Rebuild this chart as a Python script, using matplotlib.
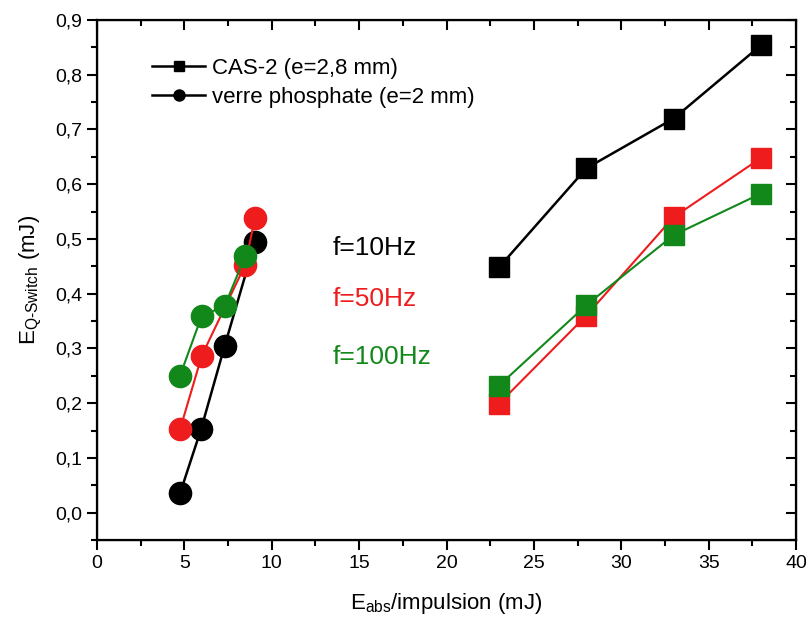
import matplotlib
matplotlib.use("Agg")
import matplotlib.pyplot as plt
from matplotlib.ticker import MultipleLocator, FuncFormatter

plt.rcParams['font.family'] = ['Liberation Sans', 'DejaVu Sans']
plt.rcParams['mathtext.fontset'] = 'custom'
plt.rcParams['mathtext.rm'] = 'Liberation Sans'
plt.rcParams['mathtext.default'] = 'regular'

# CAS-2 (squares)
cas_x = [23, 28, 33, 38]
cas_10 = [0.448, 0.629, 0.720, 0.854]
cas_50 = [0.199, 0.360, 0.540, 0.648]
cas_100 = [0.232, 0.379, 0.507, 0.583]

# verre phosphate (circles)
vp_x_10 = [4.75, 5.95, 7.3, 9.04]
vp_10 = [0.035, 0.152, 0.304, 0.494]
vp_x_50 = [4.75, 6.0, 8.47, 9.04]
vp_50 = [0.152, 0.287, 0.452, 0.538]
vp_x_100 = [4.75, 6.0, 7.3, 8.47]
vp_100 = [0.250, 0.360, 0.377, 0.468]

black = '#000000'
red = '#ee1c1c'
green = '#12881a'

fig = plt.figure(figsize=(8.06, 6.2), dpi=100)
ax = fig.add_axes([97/806, 1-540/620, (796-97)/806, (540-20)/620])

# squares
ax.plot(cas_x, cas_10, '-s', color=black, lw=1.8, ms=15)
ax.plot(cas_x, cas_50, '-s', color=red, lw=1.5, ms=15)
ax.plot(cas_x, cas_100, '-s', color=green, lw=1.5, ms=15)

# circles
ax.plot(vp_x_10, vp_10, '-o', color=black, lw=1.8, ms=16)
ax.plot(vp_x_50, vp_50, '-o', color=red, lw=1.5, ms=16)
ax.plot(vp_x_100, vp_100, '-o', color=green, lw=1.5, ms=16)

# legend handles
h1, = ax.plot([], [], '-s', color=black, lw=1.8, ms=7)
h2, = ax.plot([], [], '-o', color=black, lw=1.8, ms=8)
ax.legend([h1, h2], ['CAS-2 (e=2,8 mm)', 'verre phosphate (e=2 mm)'],
          loc='upper left', bbox_to_anchor=(0.05, 0.965), frameon=False,
          fontsize=16, handlelength=2.4, handletextpad=0.3, labelspacing=0.35)

ax.text(13.5, 0.483, 'f=10Hz', color=black, fontsize=19, va='center')
ax.text(13.5, 0.390, 'f=50Hz', color=red, fontsize=19, va='center')
ax.text(13.5, 0.284, 'f=100Hz', color=green, fontsize=19, va='center')

ax.set_xlim(0, 40)
ax.set_ylim(-0.05, 0.9)
ax.xaxis.set_major_locator(MultipleLocator(5))
ax.xaxis.set_minor_locator(MultipleLocator(2.5))
ax.yaxis.set_major_locator(MultipleLocator(0.1))
ax.yaxis.set_minor_locator(MultipleLocator(0.05))
ax.yaxis.set_major_formatter(FuncFormatter(lambda v, p: f'{v:.1f}'.replace('.', ',').replace('-0,0', '0,0')))
ax.tick_params(which='major', direction='out', length=7, width=1.5, labelsize=14)
ax.tick_params(which='minor', direction='out', length=4, width=1.5)
for s in ax.spines.values():
    s.set_linewidth(1.6)

# mirrored ticks pointing inward on top and right
axr = ax.twinx()
axr.set_ylim(ax.get_ylim())
axr.yaxis.set_major_locator(MultipleLocator(0.1))
axr.yaxis.set_minor_locator(MultipleLocator(0.05))
axr.tick_params(which='major', direction='in', length=7, width=1.5, labelright=False)
axr.tick_params(which='minor', direction='in', length=4, width=1.5)
axt = ax.twiny()
axt.set_xlim(ax.get_xlim())
axt.xaxis.set_major_locator(MultipleLocator(5))
axt.xaxis.set_minor_locator(MultipleLocator(2.5))
axt.tick_params(which='major', direction='in', length=7, width=1.5, labeltop=False)
axt.tick_params(which='minor', direction='in', length=4, width=1.5)

ax.set_xlabel('E$_{abs}$/impulsion (mJ)', fontsize=16, labelpad=14)
ax.set_ylabel('E$_{Q\u2010Switch}$ (mJ)', fontsize=16, labelpad=8)

fig.savefig('out.png', dpi=100)
